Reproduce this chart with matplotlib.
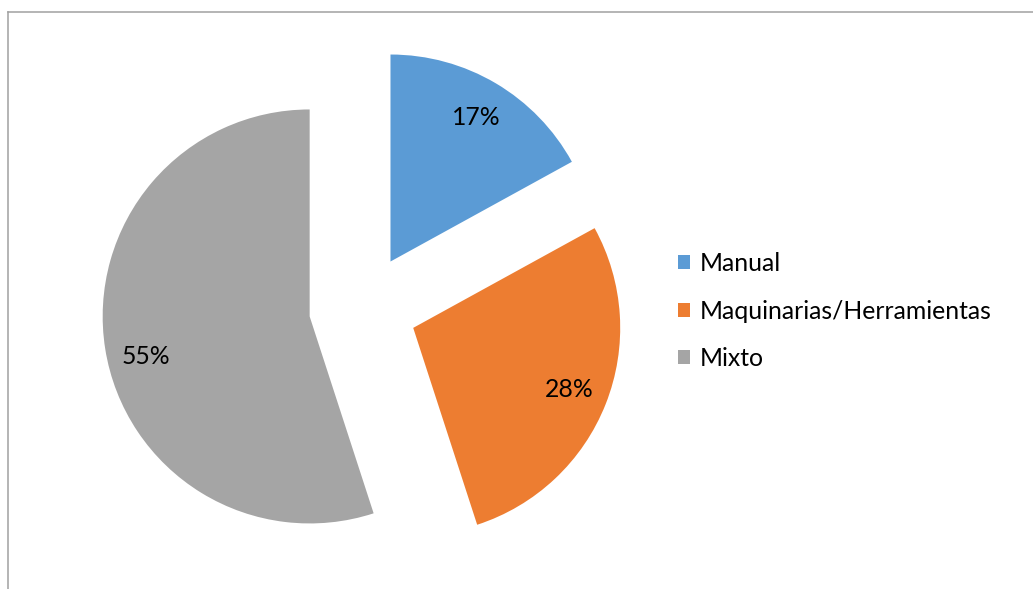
import matplotlib.pyplot as plt
from matplotlib.lines import Line2D

categories = ['Manual', 'Maquinarias/Herramientas', 'Mixto']
shares = [17, 28, 55]
colors = ['#5B9BD5', '#ED7D31', '#A5A5A5']

W, H = 1033, 589
plt.rcParams['font.family'] = ['Lato', 'DejaVu Sans']
FS = 17.8

fig = plt.figure(figsize=(W / 100, H / 100), dpi=100)
ax = fig.add_axes([0, 0, 1, 1])

# pie in pixel-like data units so the layout is easy to place
radius = 207
wedges, texts, autotexts = ax.pie(
    shares, colors=colors, startangle=90, counterclock=False,
    explode=[54, 54, 54], radius=radius, center=(363, H - 308),
    autopct='%1.0f%%', pctdistance=0.81,
    wedgeprops=dict(linewidth=0),
    textprops=dict(fontsize=FS, color='black'))

# the big slice's label sits a little lower
x, y = autotexts[2].get_position()
autotexts[2].set_position((x + 2, y - 14))

ax.set_xlim(0, W)
ax.set_ylim(0, H)
ax.set_aspect('equal')
ax.axis('off')

leg = ax.legend(wedges, categories, loc='center left',
                bbox_to_anchor=(678 / W, 1 - 311 / H), bbox_transform=fig.transFigure,
                frameon=False, fontsize=FS, borderpad=0, borderaxespad=0,
                handlelength=0.5, handleheight=0.5, handletextpad=0.36,
                labelspacing=1.0)

# chart area border (left and top edges visible)
border = dict(color='#A0A0A0', linewidth=1.1, transform=fig.transFigure)
fig.add_artist(Line2D([7.5 / W, 7.5 / W], [0, 1 - 11.5 / H], **border))
fig.add_artist(Line2D([7.5 / W, 1], [1 - 11.5 / H, 1 - 11.5 / H], **border))

fig.savefig('out.png', dpi=100)
